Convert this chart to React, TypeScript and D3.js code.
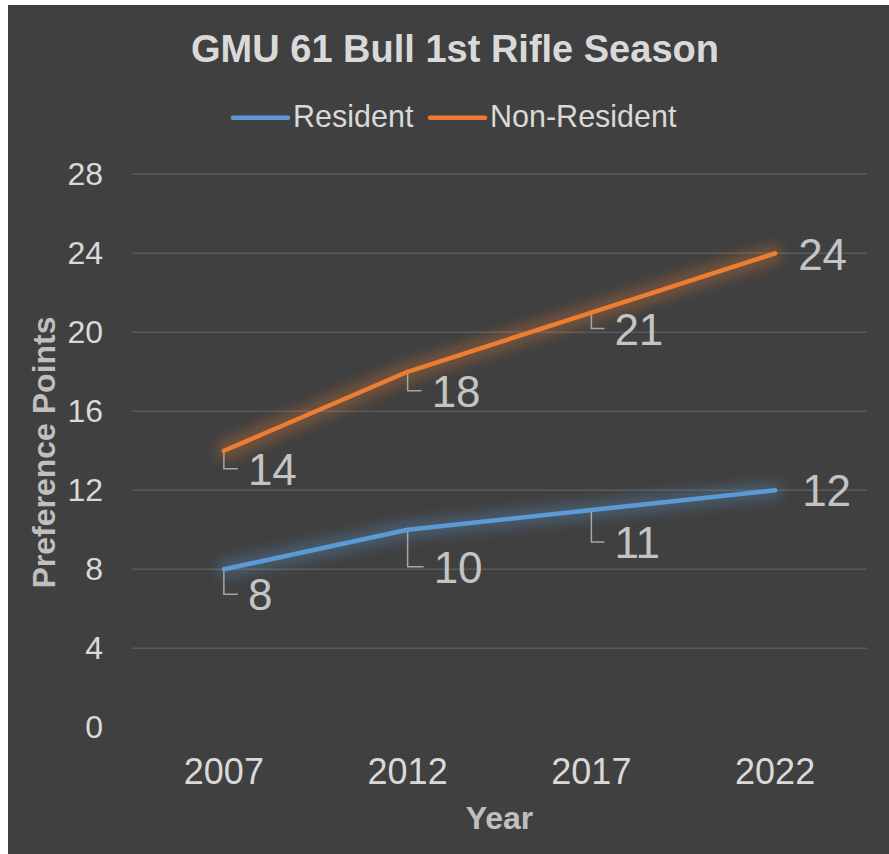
import React from "react";
import * as d3 from "d3";

const years = ["2007", "2012", "2017", "2022"];
const resident = [8, 10, 11, 12];
const nonResident = [14, 18, 21, 24];
const yTicks = [0, 4, 8, 12, 16, 20, 24, 28];
const seriesNames = ["Resident", "Non-Resident"];

// label placement offsets (dx, dy to baseline) and whether a leader line is drawn
const residentLabelPos = [
  { dx: 24, dy: 41, leader: true },
  { dx: 26, dy: 53, leader: true },
  { dx: 23, dy: 48, leader: true },
  { dx: 27, dy: 16, leader: false },
];
const nonResidentLabelPos = [
  { dx: 24, dy: 34, leader: true },
  { dx: 24, dy: 35, leader: true },
  { dx: 23, dy: 32, leader: true },
  { dx: 23, dy: 17, leader: false },
];

const W = 889;
const H = 854;
const FONT = "'Liberation Sans', Arial, sans-serif";
const BLUE = "#5b9bd5";
const ORANGE = "#ed7d31";
const TEXT = "#d9d9d9";
const LABEL = "#c4c4c4";

export default function App() {
  const x = d3.scalePoint<string>().domain(years).range([132, 867]).padding(0.5);
  const y = d3.scaleLinear().domain([0, 28]).range([727.3, 174.3]);
  const line = d3
    .line<number>()
    .x((_, i) => x(years[i]) as number)
    .y((d) => y(d));

  const series = [
    { name: seriesNames[0], values: resident, color: BLUE, pos: residentLabelPos, glow: "glowBlue" },
    { name: seriesNames[1], values: nonResident, color: ORANGE, pos: nonResidentLabelPos, glow: "glowOrange" },
  ];

  return (
    <svg
      width={W}
      height={H}
      style={{ position: "absolute", left: 0, top: 0, display: "block" }}
      fontFamily={FONT}
    >
      <defs>
        <filter id="glowBlue" x="-20%" y="-60%" width="140%" height="220%">
          <feMorphology in="SourceAlpha" operator="dilate" radius="6" result="d" />
          <feGaussianBlur in="d" stdDeviation="6" result="b" />
          <feFlood floodColor={BLUE} floodOpacity="0.28" />
          <feComposite in2="b" operator="in" />
        </filter>
        <filter id="glowOrange" x="-20%" y="-60%" width="140%" height="220%">
          <feMorphology in="SourceAlpha" operator="dilate" radius="6" result="d" />
          <feGaussianBlur in="d" stdDeviation="6" result="b" />
          <feFlood floodColor={ORANGE} floodOpacity="0.28" />
          <feComposite in2="b" operator="in" />
        </filter>
      </defs>
      <rect x={0} y={0} width={W} height={H} fill="#ffffff" />
      <rect x={8} y={5} width={W - 8} height={H - 5} fill="#404040" />

      {/* title */}
      <text x={455} y={62} textAnchor="middle" fontSize={38} fontWeight="bold" fill={TEXT}>
        GMU 61 Bull 1st Rifle Season
      </text>

      {/* legend */}
      <g>
        <line x1={233} x2={288} y1={117.7} y2={117.7} stroke={BLUE} strokeWidth={4.5} strokeLinecap="round" />
        <text x={293} y={127} fontSize={30.5} fill={TEXT}>{seriesNames[0]}</text>
        <line x1={430} x2={485} y1={117.7} y2={117.7} stroke={ORANGE} strokeWidth={4.5} strokeLinecap="round" />
        <text x={490} y={127} fontSize={30.5} fill={TEXT}>{seriesNames[1]}</text>
      </g>

      {/* gridlines and y ticks */}
      {yTicks.map((t) => (
        <g key={t}>
          {t > 0 && (
            <line x1={132} x2={867} y1={y(t)} y2={y(t)} stroke="#5a5a5a" strokeWidth={1.5} />
          )}
          <text x={103} y={y(t) + 11} textAnchor="end" fontSize={32} fill={TEXT}>
            {t}
          </text>
        </g>
      ))}

      {/* x ticks */}
      {years.map((yr) => (
        <text key={yr} x={x(yr)} y={784} textAnchor="middle" fontSize={36} fill={TEXT}>
          {yr}
        </text>
      ))}

      {/* axis titles */}
      <text
        transform={`translate(55, 452.5) rotate(-90)`}
        textAnchor="middle"
        fontSize={32}
        fontWeight="bold"
        fill="#bfbfbf"
      >
        Preference Points
      </text>
      <text x={499.5} y={829} textAnchor="middle" fontSize={32} fontWeight="bold" fill="#bfbfbf">
        Year
      </text>

      {/* series */}
      {series.map((s) => (
        <g key={s.name}>
          <path d={line(s.values) as string} fill="none" stroke={s.color} strokeWidth={5} filter={`url(#${s.glow})`} />
          <path d={line(s.values) as string} fill="none" stroke={s.color} strokeWidth={4.5} strokeLinejoin="round" strokeLinecap="round" />
        </g>
      ))}

      {/* data labels */}
      {series.map((s) =>
        s.values.map((v, i) => {
          const px = x(years[i]) as number;
          const py = y(v);
          const p = s.pos[i];
          const lx = px + p.dx;
          const ly = py + p.dy;
          const mid = ly - 16;
          return (
            <g key={s.name + i}>
              {p.leader && (
                <path
                  d={`M${px},${py + 2}V${mid}H${lx - 10}`}
                  fill="none"
                  stroke="#a6a6a6"
                  strokeWidth={1.5}
                />
              )}
              <text x={lx} y={ly} fontSize={44} fill={LABEL}>
                {v}
              </text>
            </g>
          );
        })
      )}
    </svg>
  );
}
